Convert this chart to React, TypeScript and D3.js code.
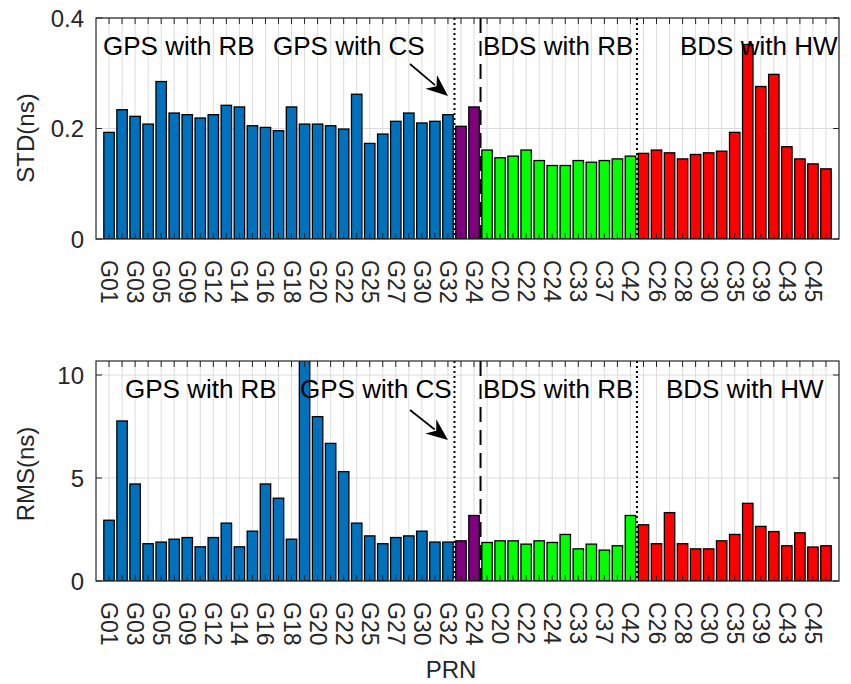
import React from 'react';
import * as d3 from 'd3';

// ---- Data ----
const gpsRbPrn = ['G01','G02','G03','G04','G05','G07','G09','G10','G12','G13','G14','G15','G16','G17','G18','G19','G20','G21','G22','G23','G25','G26','G27','G29','G30','G31','G32'];
const gpsCsPrn = ['G08','G24'];
const bdsRbPrn = ['C19','C20','C21','C22','C23','C24','C32','C33','C36','C37','C41','C42'];
const bdsHwPrn = ['C25','C26','C27','C28','C29','C30','C34','C35','C38','C39','C40','C43','C44','C45','C46'];

const gpsRbStd = [0.193,0.234,0.222,0.208,0.285,0.228,0.225,0.219,0.225,0.242,0.239,0.205,0.202,0.196,0.239,0.208,0.208,0.205,0.199,0.262,0.173,0.190,0.213,0.228,0.210,0.213,0.225];
const gpsCsStd = [0.204,0.239];
const bdsRbStd = [0.161,0.147,0.150,0.161,0.142,0.133,0.133,0.142,0.139,0.142,0.145,0.150];
const bdsHwStd = [0.155,0.161,0.156,0.145,0.153,0.156,0.159,0.193,0.352,0.276,0.298,0.167,0.145,0.136,0.127];

const gpsRbRms = [2.95,7.77,4.71,1.81,1.89,2.03,2.11,1.66,2.11,2.81,1.66,2.42,4.71,4.02,2.03,12.0,7.98,6.68,5.31,2.81,2.19,1.81,2.11,2.19,2.42,1.89,1.89];
const gpsCsRms = [1.95,3.18];
const bdsRbRms = [1.87,1.95,1.95,1.79,1.95,1.87,2.26,1.56,1.79,1.50,1.71,3.18];
const bdsHwRms = [2.73,1.81,3.32,1.81,1.56,1.56,1.95,2.26,3.77,2.65,2.40,1.71,2.34,1.65,1.71];

const groupLabels = ['GPS with RB','GPS with CS','BDS with RB','BDS with HW'];
const groupColors = ['#0072BD','#800080','#00FF00','#FF0000'];

const stdTicks = [0, 0.2, 0.4];
const stdTickLabels = ['0', '0.2', '0.4'];
const rmsTicks = [0, 5, 10];
const rmsTickLabels = ['0', '5', '10'];

const prns = [...gpsRbPrn, ...gpsCsPrn, ...bdsRbPrn, ...bdsHwPrn];
const groupOf = [
  ...gpsRbPrn.map(() => 0),
  ...gpsCsPrn.map(() => 1),
  ...bdsRbPrn.map(() => 2),
  ...bdsHwPrn.map(() => 3),
];
const stdVals = [...gpsRbStd, ...gpsCsStd, ...bdsRbStd, ...bdsHwStd];
const rmsVals = [...gpsRbRms, ...gpsCsRms, ...bdsRbRms, ...bdsHwRms];

// group boundaries (between bars)
const b1 = gpsRbPrn.length + 0.5;
const b2 = b1 + gpsCsPrn.length;
const b3 = b2 + bdsRbPrn.length;

const FONT = '"Liberation Sans", Arial, Helvetica, sans-serif';
const AX = '#262626';

const x = d3.scaleLinear().domain([0, prns.length + 1]).range([96, 839]);

type PanelProps = {
  id: string;
  values: number[];
  yDomain: [number, number];
  top: number;
  bottom: number;
  ticks: number[];
  tickLabels: string[];
  ylabel: string;
  ylabelY: number;
  annX: number[];
  annY: number;
  arrow: [number, number, number, number];
};

function Panel(p: PanelProps) {
  const y = d3.scaleLinear().domain(p.yDomain).range([p.bottom, p.top]);
  const [x0, x1] = x.range();
  const bw = (x(1) - x(0)) * 0.8;
  const idx = d3.range(1, prns.length + 1);
  const tl = 6;
  const [ax1, ay1, ax2, ay2] = p.arrow;
  const ang = Math.atan2(ay2 - ay1, ax2 - ax1);
  const hl = 22, hw = 9;
  const c = Math.cos(ang), s = Math.sin(ang);
  const bx = ax2 - hl * c, by = ay2 - hl * s;
  const head = [
    [ax2, ay2],
    [bx + hw * s, by - hw * c],
    [bx + 7 * c, by + 7 * s],
    [bx - hw * s, by + hw * c],
  ];
  return (
    <g>
      <defs>
        <clipPath id={p.id}>
          <rect x={x0} y={p.top} width={x1 - x0} height={p.bottom - p.top} />
        </clipPath>
      </defs>
      <rect x={x0} y={p.top} width={x1 - x0} height={p.bottom - p.top} fill="#fff" />
      {/* grid */}
      {idx.map(i => (
        <line key={'gv' + i} x1={x(i)} x2={x(i)} y1={p.top} y2={p.bottom} stroke="#dcdcdc" strokeWidth={1} />
      ))}
      {p.ticks.map(t => (
        <line key={'gh' + t} x1={x0} x2={x1} y1={y(t)} y2={y(t)} stroke="#dcdcdc" strokeWidth={1} />
      ))}
      {/* bars */}
      <g clipPath={`url(#${p.id})`}>
        {p.values.map((v, i) => (
          <rect key={'b' + i} x={x(i + 1) - bw / 2} y={y(v)} width={bw} height={y(0) - y(v)}
            fill={groupColors[groupOf[i]]} stroke="#000" strokeWidth={1.3} />
        ))}
      </g>
      {/* ticks */}
      {idx.map(i => (
        <g key={'t' + i}>
          <line x1={x(i)} x2={x(i)} y1={p.bottom} y2={p.bottom - tl} stroke={AX} strokeWidth={1} />
          <line x1={x(i)} x2={x(i)} y1={p.top} y2={p.top + tl} stroke={AX} strokeWidth={1} />
        </g>
      ))}
      {p.ticks.map(t => (
        <g key={'yt' + t}>
          <line x1={x0} x2={x0 + tl} y1={y(t)} y2={y(t)} stroke={AX} strokeWidth={1} />
          <line x1={x1} x2={x1 - tl} y1={y(t)} y2={y(t)} stroke={AX} strokeWidth={1} />
        </g>
      ))}
      {/* separators */}
      <line x1={x(b1)} x2={x(b1)} y1={p.top} y2={p.bottom} stroke="#000" strokeWidth={2} strokeDasharray="2 3" />
      <line x1={x(b2)} x2={x(b2)} y1={p.top} y2={p.bottom} stroke="#000" strokeWidth={2} strokeDasharray="15 8" />
      <line x1={x(b3)} x2={x(b3)} y1={p.top} y2={p.bottom} stroke="#000" strokeWidth={2} strokeDasharray="2 3" />
      {/* box */}
      <rect x={x0} y={p.top} width={x1 - x0} height={p.bottom - p.top} fill="none" stroke={AX} strokeWidth={1.2} />
      {/* y tick labels */}
      {p.ticks.map((t, k) => (
        <text key={'yl' + t} x={84} y={y(t)} textAnchor="end" dominantBaseline="central"
          fontFamily={FONT} fontSize={24} fill={AX}>{p.tickLabels[k]}</text>
      ))}
      {/* x tick labels */}
      {idx.filter(i => i % 2 === 1).map(i => (
        <text key={'xl' + i} transform={`translate(${x(i)},${p.bottom + 21}) rotate(90)`}
          textAnchor="start" dominantBaseline="central" fontFamily={FONT} fontSize={23} fill={AX}>{prns[i - 1]}</text>
      ))}
      {/* y label */}
      <text transform={`translate(34,${p.ylabelY}) rotate(-90)`} textAnchor="middle"
        fontFamily={FONT} fontSize={24} fill={AX}>{p.ylabel}</text>
      {/* annotations */}
      {groupLabels.map((g, k) => (
        <text key={'a' + k} x={p.annX[k]} y={p.annY} fontFamily={FONT} fontSize={26} fill="#000">{g}</text>
      ))}
      {/* arrow */}
      <line x1={ax1} y1={ay1} x2={bx + 5 * c} y2={by + 5 * s} stroke="#000" strokeWidth={1.7} />
      <polygon points={head.map(pt => pt.join(',')).join(' ')} fill="#000" />
    </g>
  );
}

export default function App() {
  return (
    <svg width={851} height={684} style={{ position: 'absolute', left: 0, top: 0, background: '#fff' }}>
      <rect width={851} height={684} fill="#fff" />
      <Panel id="c1" values={stdVals} yDomain={[0, 0.4]} top={18} bottom={239}
        ticks={stdTicks} tickLabels={stdTickLabels} ylabel="STD(ns)" ylabelY={138}
        annX={[103, 273, 483, 680]} annY={55} arrow={[410, 64, 448, 96]} />
      <Panel id="c2" values={rmsVals} yDomain={[0, 10.68]} top={361} bottom={581}
        ticks={rmsTicks} tickLabels={rmsTickLabels} ylabel="RMS(ns)" ylabelY={474}
        annX={[125, 300, 483, 666]} annY={398} arrow={[410, 410, 448, 440]} />
      <text x={451} y={678} textAnchor="middle" fontFamily={FONT} fontSize={24} fill={AX}>PRN</text>
    </svg>
  );
}
